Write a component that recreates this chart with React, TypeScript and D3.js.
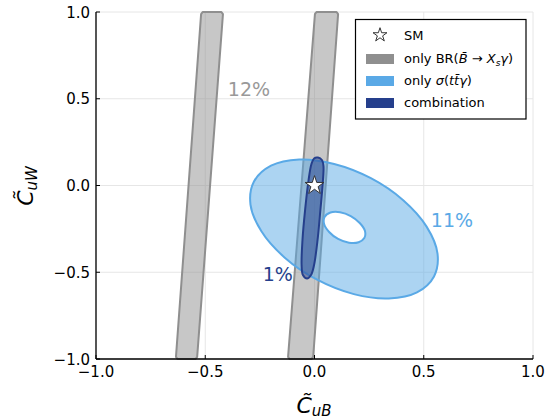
import React from "react";
import * as d3 from "d3";

// Axis ticks
const xTicks = [-1, -0.5, 0, 0.5, 1];
const yTicks = [-1, -0.5, 0, 0.5, 1];

// 95% CL regions in the (C_uB, C_uW) plane
// BR(B -> X_s gamma) only: two tilted bands (corners slightly cut)
const bandLeft: [number, number][] = [
  [-0.512, 1.0], [-0.426, 1.0], [-0.419, 0.988], [-0.537, -0.988],
  [-0.544, -1.0], [-0.627, -1.0], [-0.634, -0.988], [-0.519, 0.988],
];
const bandRight: [number, number][] = [
  [0.009, 1.0], [0.101, 1.0], [0.108, 0.988], [-0.006, -0.988],
  [-0.014, -1.0], [-0.114, -1.0], [-0.121, -0.988], [0.002, 0.988],
];

// sigma(t tbar gamma) only: ring (outer boundary and inner hole)
const ringOuter: [number, number][] = [
  [0.547, -0.524], [0.469, -0.616], [0.340, -0.651], [0.180, -0.626],
  [0.012, -0.543], [-0.136, -0.416], [-0.243, -0.264], [-0.293, -0.110],
  [-0.277, 0.023], [-0.199, 0.114], [-0.070, 0.150], [0.090, 0.124],
  [0.258, 0.042], [0.406, -0.085], [0.513, -0.237], [0.563, -0.392],
];
const ringInner: [number, number][] = [
  [0.228, -0.303], [0.202, -0.327], [0.158, -0.330], [0.108, -0.308],
  [0.067, -0.268], [0.044, -0.222], [0.046, -0.181], [0.073, -0.156],
  [0.117, -0.154], [0.166, -0.176], [0.207, -0.216], [0.231, -0.262],
];

// Combination of both measurements
const combo: [number, number][] = [
  [0.016, 0.161], [0.034, 0.147], [0.041, 0.112], [0.037, 0.003],
  [0.027, -0.141], [0.014, -0.314], [-0.002, -0.458], [-0.016, -0.516],
  [-0.034, -0.536], [-0.053, -0.516], [-0.059, -0.458], [-0.055, -0.314],
  [-0.043, -0.141], [-0.027, 0.032], [-0.014, 0.124], [-0.002, 0.156],
];

// Standard Model point
const smPoint: [number, number] = [0, 0];

const GRAY = "#8f8f8f";
const BLUE = "#5aa9e6";
const NAVY = "#253f8c";
const FONT = "DejaVu Sans";

export default function App() {
  const W = 554;
  const H = 420;
  const x = d3.scaleLinear().domain([-1, 1]).range([96, 533]);
  const y = d3.scaleLinear().domain([-1, 1]).range([359, 12]);
  const fmt = d3.format(".1f");

  const lin = d3
    .line<[number, number]>()
    .x((d) => x(d[0]))
    .y((d) => y(d[1]))
    .curve(d3.curveLinearClosed);
  const smooth = d3
    .line<[number, number]>()
    .x((d) => x(d[0]))
    .y((d) => y(d[1]))
    .curve(d3.curveCatmullRomClosed.alpha(0.5));

  const star = d3.symbol().type(d3.symbolStar).size(110)();
  const starSmall = d3.symbol().type(d3.symbolStar).size(60)();

  return (
    <svg
      width={W}
      height={H}
      style={{ position: "absolute", left: 0, top: 0, background: "#fff" }}
      fontFamily={FONT}
    >
      {/* grid */}
      <g stroke="#e6e6e6" strokeWidth={1}>
        {xTicks.map((t) => (
          <line key={"gx" + t} x1={x(t)} x2={x(t)} y1={y(-1)} y2={y(1)} />
        ))}
        {yTicks.map((t) => (
          <line key={"gy" + t} x1={x(-1)} x2={x(1)} y1={y(t)} y2={y(t)} />
        ))}
      </g>

      {/* BR-only bands */}
      {[bandLeft, bandRight].map((b, i) => (
        <path
          key={"band" + i}
          d={lin(b) || ""}
          fill={GRAY}
          fillOpacity={0.5}
          stroke={GRAY}
          strokeWidth={2}
          strokeLinejoin="round"
        />
      ))}

      {/* cross-section-only ring */}
      <path
        d={(smooth(ringOuter) || "") + (smooth(ringInner) || "")}
        fill={BLUE}
        fillOpacity={0.5}
        fillRule="evenodd"
        stroke={BLUE}
        strokeWidth={2}
      />

      {/* combination */}
      <path
        d={smooth(combo) || ""}
        fill={NAVY}
        fillOpacity={0.5}
        stroke={NAVY}
        strokeWidth={2}
      />

      {/* SM */}
      <path
        d={star || ""}
        transform={`translate(${x(smPoint[0])},${y(smPoint[1])})`}
        fill="#fff"
        stroke="#333"
        strokeWidth={1}
      />

      {/* region labels */}
      <text x={x(-0.3)} y={y(0.516)} fontSize={19} fill="#999" textAnchor="middle">
        12%
      </text>
      <text x={x(0.629)} y={y(-0.239)} fontSize={19} fill={BLUE} textAnchor="middle">
        11%
      </text>
      <text x={x(-0.168)} y={y(-0.55)} fontSize={19} fill={NAVY} textAnchor="middle">
        1%
      </text>

      {/* axes */}
      <g stroke="#000">
        <line x1={x(-1)} x2={x(1)} y1={y(-1)} y2={y(-1)} strokeWidth={1.3} />
        <line x1={x(-1)} x2={x(-1)} y1={y(-1)} y2={y(1)} strokeWidth={1.3} />
        {xTicks.map((t) => (
          <line key={"tx" + t} x1={x(t)} x2={x(t)} y1={y(-1)} y2={y(-1) - 4} strokeWidth={1} />
        ))}
        {yTicks.map((t) => (
          <line key={"ty" + t} x1={x(-1)} x2={x(-1) + 4} y1={y(t)} y2={y(t)} strokeWidth={1} />
        ))}
      </g>
      <g fontSize={15} fill="#000">
        {xTicks.map((t) => (
          <text key={"lx" + t} x={x(t)} y={y(-1) + 18} textAnchor="middle">
            {fmt(t)}
          </text>
        ))}
        {yTicks.map((t) => (
          <text key={"ly" + t} x={x(-1) - 6} y={y(t) + 5.5} textAnchor="end">
            {fmt(t)}
          </text>
        ))}
      </g>

      {/* axis titles */}
      <text x={314} y={413} textAnchor="middle" fontSize={22} fontStyle="italic">
        {"C\u0303"}
        <tspan fontSize={15} dy={3}>uB</tspan>
      </text>
      <text
        transform={`translate(33,186) rotate(-90)`}
        textAnchor="middle"
        fontSize={22}
        fontStyle="italic"
      >
        {"C\u0303"}
        <tspan fontSize={15} dy={4}>uW</tspan>
      </text>

      {/* legend */}
      <g>
        <rect x={355.5} y={19.5} width={170.5} height={99.5} fill="#fff" stroke="#000" strokeWidth={1.2} />
        <path d={starSmall || ""} transform="translate(380,35)" fill="#fff" stroke="#333" strokeWidth={1} />
        <rect x={366} y={54} width={28} height={10} fill={GRAY} />
        <rect x={366} y={76} width={28} height={10} fill={BLUE} />
        <rect x={366} y={98} width={28} height={10} fill={NAVY} />
        <g fontSize={13} fill="#000">
          <text x={404} y={40}>SM</text>
          <text x={404} y={63}>
            {"only BR("}
            <tspan fontStyle="italic">{"B\u0304"}</tspan>
            {" \u2192 "}
            <tspan fontStyle="italic">X</tspan>
            <tspan fontStyle="italic" fontSize={9} dy={3}>s</tspan>
            <tspan fontStyle="italic" dy={-3}>{"\u03b3"}</tspan>
            {")"}
          </text>
          <text x={404} y={85}>
            {"only "}
            <tspan fontStyle="italic">{"\u03c3"}</tspan>
            {"("}
            <tspan fontStyle="italic">{"tt\u0304\u03b3"}</tspan>
            {")"}
          </text>
          <text x={404} y={107}>combination</text>
        </g>
      </g>
    </svg>
  );
}
